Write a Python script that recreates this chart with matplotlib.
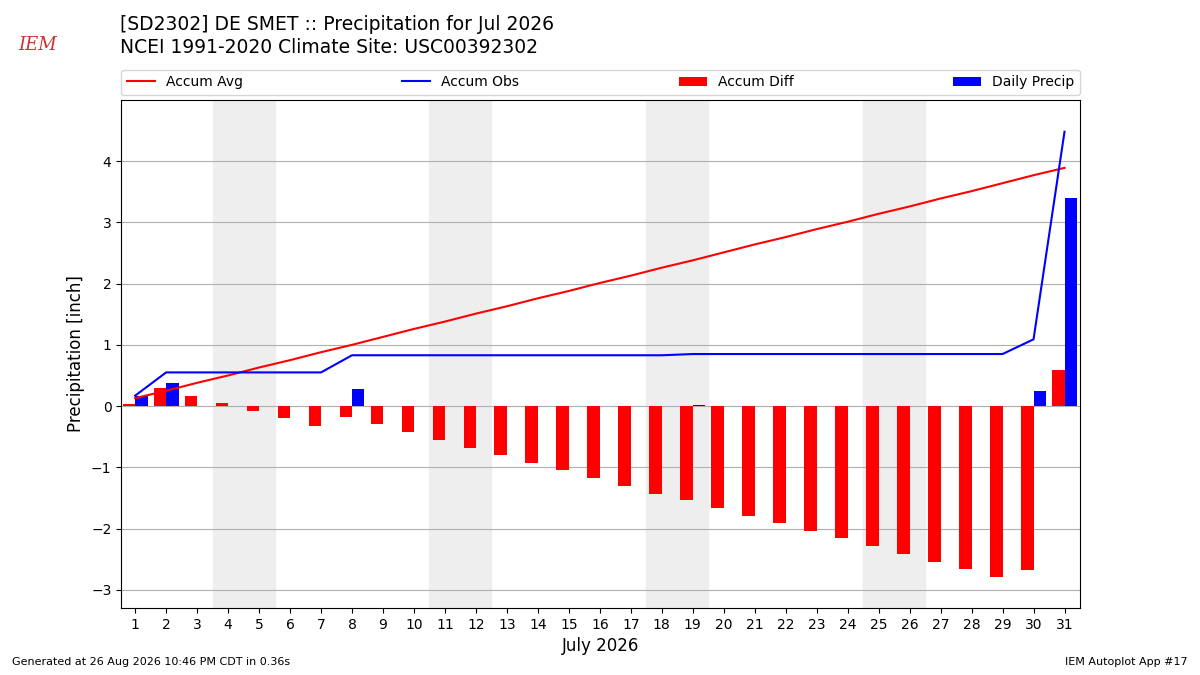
import matplotlib
matplotlib.use("Agg")
import matplotlib.pyplot as plt

days = list(range(1, 32))
weekend_starts = [4, 11, 18, 25]

daily_precip = [0.17, 0.38, 0, 0, 0, 0, 0, 0.28, 0, 0, 0, 0, 0, 0, 0, 0, 0, 0,
                0.02, 0, 0, 0, 0, 0, 0, 0, 0, 0, 0, 0.24, 3.39]
accum_obs = [0.17, 0.55, 0.55, 0.55, 0.55, 0.55, 0.55, 0.83, 0.83, 0.83, 0.83,
             0.83, 0.83, 0.83, 0.83, 0.83, 0.83, 0.83, 0.85, 0.85, 0.85, 0.85,
             0.85, 0.85, 0.85, 0.85, 0.85, 0.85, 0.85, 1.09, 4.48]
accum_avg = [0.13, 0.25, 0.38, 0.50, 0.63, 0.75, 0.88, 1.00, 1.13, 1.26, 1.38,
             1.51, 1.63, 1.76, 1.88, 2.01, 2.13, 2.26, 2.38, 2.51, 2.64, 2.76,
             2.89, 3.01, 3.14, 3.26, 3.39, 3.51, 3.64, 3.77, 3.89]
accum_diff = [0.04, 0.30, 0.17, 0.05, -0.08, -0.20, -0.33, -0.17, -0.30, -0.43,
              -0.55, -0.68, -0.80, -0.93, -1.05, -1.18, -1.30, -1.43, -1.53,
              -1.66, -1.79, -1.91, -2.04, -2.16, -2.29, -2.41, -2.54, -2.66,
              -2.79, -2.68, 0.59]

fig = plt.figure(figsize=(12, 6.75), dpi=100)
ax = fig.add_axes([0.101, 0.099, 0.799, 0.753])

# weekends
for d in weekend_starts:
    ax.axvspan(d - 0.5, d + 1.5, color="#eeeeee", zorder=0)

ax.plot(days, accum_avg, color="r", label="Accum Avg", zorder=3)
ax.plot(days, accum_obs, color="b", label="Accum Obs", zorder=3)
ax.bar(days, accum_diff, width=-0.4, align="edge", color="r",
       label="Accum Diff", zorder=2)
ax.bar(days, daily_precip, width=0.4, align="edge", color="b",
       label="Daily Precip", zorder=2)

ax.set_xlim(0.55, 31.5)
ax.set_ylim(-3.3, 5.0)
ax.set_xticks(days)
ax.set_yticks(range(-3, 5))
ax.yaxis.grid(True, color="#b0b0b0")
ax.set_axisbelow(True)
ax.set_xlabel("July 2026", fontsize=12)
ax.set_ylabel("Precipitation [inch]", fontsize=12)
ax.legend(bbox_to_anchor=(0, 1.01, 1, 0.05), loc="lower left", ncol=4,
          mode="expand", borderaxespad=0, fontsize=10)

fig.text(0.1, 0.963, "[SD2302] DE SMET :: Precipitation for Jul 2026",
         fontsize=13.5, va="center")
fig.text(0.1, 0.929, "NCEI 1991-2020 Climate Site: USC00392302",
         fontsize=13.5, va="center")
fig.text(0.031, 0.933, "IEM", color="#d03030", fontsize=13, style="italic",
         family="DejaVu Serif", ha="center", va="center")

fig.text(0.01, 0.015, "Generated at 26 Aug 2026 10:46 PM CDT in 0.36s",
         fontsize=8)
fig.text(0.99, 0.015, "IEM Autoplot App #17", fontsize=8, ha="right")

fig.savefig("out.png")
